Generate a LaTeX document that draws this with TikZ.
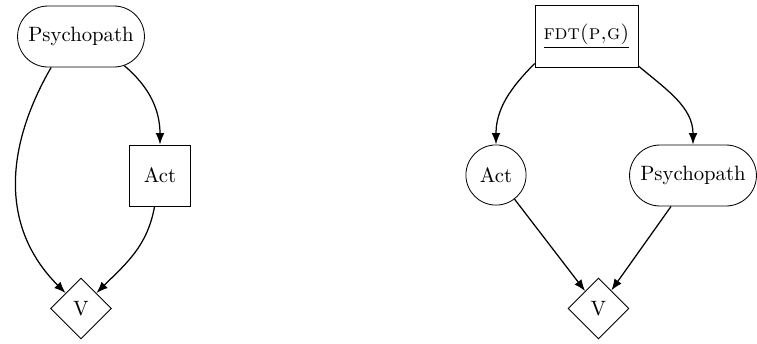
\documentclass[tikz,border=0pt]{standalone}
\usetikzlibrary{shapes.geometric,shapes.misc,arrows.meta}
\begin{document}
\begin{tikzpicture}[x=0.482pt,y=-0.482pt,
  every node/.style={font=\normalsize},
  pill/.style={draw,rounded rectangle,minimum height=29.4pt,inner xsep=4.5pt,inner ysep=4pt},
  sq/.style={draw,rectangle,minimum width=29.4pt,minimum height=29.4pt,inner sep=2pt},
  fdtbox/.style={draw,rectangle,minimum width=49.6pt,minimum height=29.9pt,inner sep=2pt},
  circ/.style={draw,circle,minimum size=29pt,inner sep=1pt},
  dia/.style={draw,diamond,minimum size=29.4pt,inner sep=0pt},
  arr/.style={-{Latex[length=5.5pt,width=4.2pt]},semithick}]
\useasboundingbox (0,0) rectangle (757,343);
% left
\node[pill] (p1) at (81,36.5) {Psychopath};
\node[sq] (a1) at (160,175.5) {Act};
\node[dia] (v1) at (81,308.5) {V};
\draw[arr] (p1.-134) to[out=-120,in=135,looseness=1.05] (v1);
\draw[arr] (p1.-34) to[out=-40,in=90] (a1);
\draw[arr] (a1) to[out=-100,in=45] (v1);
% right
\node[fdtbox] (f) at (586.5,36) {\underline{\textsc{fdt(p,g)}}};
\node[circ] (a2) at (496,175) {Act};
\node[pill] (p2) at (693,175.5) {Psychopath};
\node[dia] (v2) at (598.5,308.5) {V};
\draw[arr] (f.-152) to[out=-135,in=90] (a2);
\draw[arr] (f.-30) to[out=-40,in=90] (p2);
\draw[arr] (a2) -- (v2);
\draw[arr] (p2) -- (v2);
\end{tikzpicture}
\end{document}
